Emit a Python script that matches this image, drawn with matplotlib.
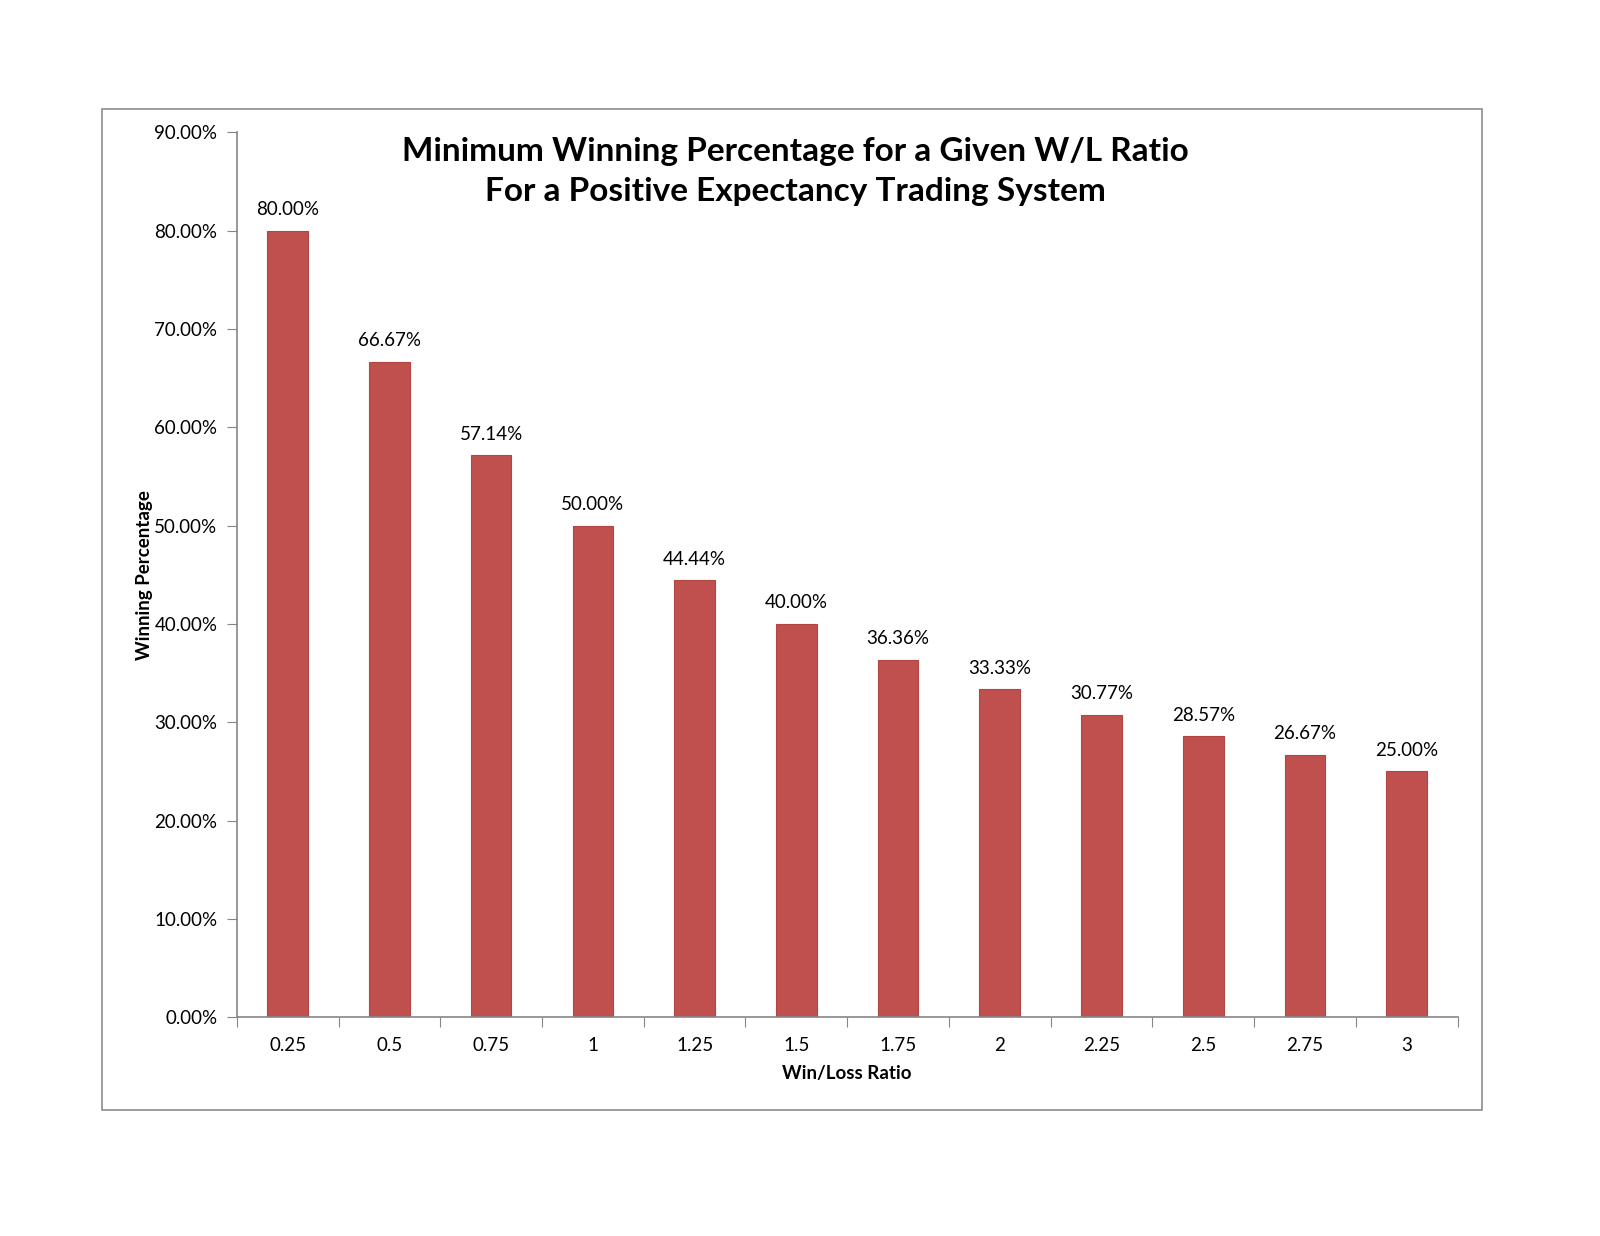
import matplotlib.pyplot as plt
from matplotlib.patches import Rectangle
from matplotlib.ticker import FixedLocator, PercentFormatter

ratios = ["0.25", "0.5", "0.75", "1", "1.25", "1.5", "1.75", "2", "2.25", "2.5", "2.75", "3"]
win_pct = [80.00, 66.67, 57.14, 50.00, 44.44, 40.00, 36.36, 33.33, 30.77, 28.57, 26.67, 25.00]
y_ticks = [0, 10, 20, 30, 40, 50, 60, 70, 80, 90]

plt.rcParams['font.family'] = ['Lato', 'DejaVu Sans']

bar_color = '#C0504D'
edge_color = '#B04542'
axis_gray = '#868686'

fig = plt.figure(figsize=(16, 12.36), dpi=100)

# outer chart border
fig.patches.append(Rectangle((0.064, 0.102), 0.862, 0.810, transform=fig.transFigure,
                             fill=False, edgecolor='#8C8C8C', linewidth=1.2))

ax = fig.add_axes([0.148, 0.177, 0.763, 0.716])
x = list(range(len(ratios)))
bars = ax.bar(x, win_pct, width=0.4, color=bar_color, edgecolor=edge_color, linewidth=0.8)

for b, v in zip(bars, win_pct):
    ax.annotate(f"{v:.2f}%", (b.get_x() + b.get_width() / 2, v),
                xytext=(0, 9), textcoords='offset points',
                ha='center', va='bottom', fontsize=13.5)

ax.set_xlim(-0.5, len(ratios) - 0.5)
ax.set_ylim(0, 90)
ax.set_yticks(y_ticks)
ax.yaxis.set_major_formatter(PercentFormatter(decimals=2))

ax.xaxis.set_major_locator(FixedLocator([i - 0.5 for i in range(len(ratios) + 1)]))
ax.xaxis.set_major_formatter(plt.NullFormatter())
ax.set_xticks(x, minor=True)
ax.set_xticklabels(ratios, minor=True)
ax.tick_params(axis='x', which='minor', length=0, pad=14, labelsize=13.5)
ax.tick_params(axis='x', which='major', length=7, color=axis_gray, direction='out')
ax.tick_params(axis='y', length=7, color=axis_gray, pad=7, labelsize=13.5)

for side in ['top', 'right']:
    ax.spines[side].set_visible(False)
for side in ['left', 'bottom']:
    ax.spines[side].set_color(axis_gray)
    ax.spines[side].set_linewidth(1.2)

ax.set_xlabel("Win/Loss Ratio", fontsize=13.5, fontweight='bold', labelpad=8)
ax.set_ylabel("Winning Percentage", fontsize=13.5, fontweight='bold', labelpad=1)

fig.text(0.497, 0.861, "Minimum Winning Percentage for a Given W/L Ratio\nFor a Positive Expectancy Trading System",
         ha='center', va='center', fontsize=24, fontweight='bold', linespacing=1.45)

fig.savefig("out.png", dpi=100, facecolor='white')
